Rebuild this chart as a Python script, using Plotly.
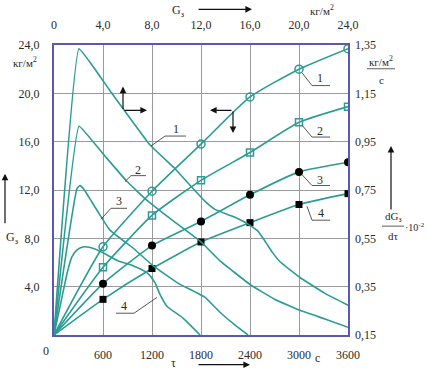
import plotly.graph_objects as go

# ---- data ----
tau = [600, 1200, 1800, 2400, 3000, 3600]
g1 = [7.3, 11.9, 15.8, 19.7, 22.0, 23.7]
g2 = [5.6, 9.9, 12.8, 15.1, 17.6, 18.9]
g3 = [4.25, 7.4, 9.4, 11.6, 13.5, 14.3]
g4 = [2.95, 5.5, 7.7, 9.3, 10.8, 11.7]

# drying-rate curves: G (top axis) vs dG/dtau (right axis)
r1_g = [0, 2.04, 4.57, 7.84, 9.88, 11.35, 12.33, 13.14, 14.53, 15.84, 16.65, 17.22, 17.80, 18.45, 20.08, 22.12, 24.0]
r1_v = [0.15, 1.334, 1.161, 0.936, 0.838, 0.756, 0.703, 0.670, 0.642, 0.609, 0.580, 0.539, 0.494, 0.453, 0.388, 0.322, 0.273]
r2_g = [0, 2.04, 4.0, 5.96, 7.59, 9.22, 11.92, 13.55, 16.0, 18.04, 20.08, 22.12, 24.0]
r2_v = [0.15, 1.014, 0.900, 0.785, 0.707, 0.642, 0.539, 0.457, 0.359, 0.297, 0.252, 0.216, 0.182]
r3_g = [0, 1.88, 2.12, 2.45, 3.51, 4.57, 6.45, 8.08, 10.04, 12.33, 13.55, 14.78, 15.84]
r3_v = [0.15, 0.756, 0.768, 0.752, 0.666, 0.584, 0.510, 0.437, 0.367, 0.306, 0.244, 0.191, 0.15]
r4_g = [0, 0.65, 1.14, 1.47, 1.88, 2.45, 3.35, 4.0, 5.22, 6.45, 7.59, 8.24, 8.65, 9.22, 10.53, 11.92]
r4_v = [0.15, 0.306, 0.420, 0.474, 0.502, 0.515, 0.506, 0.490, 0.457, 0.437, 0.408, 0.367, 0.318, 0.269, 0.220, 0.15]

x_ticks = [600, 1200, 1800, 2400, 3000, 3600]
y_ticks = [4, 8, 12, 16, 20, 24]
y_labels = ["4,0", "8,0", "12,0", "16,0", "20,0", "24,0"]
top_ticks = [0, 4, 8, 12, 16, 20, 24]
top_labels = ["0", "4,0", "8,0", "12,0", "16,0", "20,0", "24,0"]
right_ticks = [0.15, 0.35, 0.55, 0.75, 0.95, 1.15, 1.35]
right_labels = ["0,15", "0,35", "0,55", "0,75", "0,95", "1,15", "1,35"]

TEAL = "#2b9c94"
FRAME = "#5a5aaa"
FONT = "Liberation Serif"
TXT = "#2a2a2a"

W, H = 429, 374
PL, PR, PT, PB = 54, 348, 45, 338          # plot area in window pixels
L, T, R, B = PL, PT, W - PR, H - PB
PW, PH = PR - PL, PB - PT


def px(x):
    return (x - PL) / PW


def py(y):
    return (PB - y) / PH


fig = go.Figure()

# rate curves on top/right axes
for gx, gv, sm in [(r1_g, r1_v, 0.25), (r2_g, r2_v, 0.25), (r3_g, r3_v, 0.4), (r4_g, r4_v, 0.6)]:
    fig.add_trace(go.Scatter(x=gx, y=gv, xaxis="x2", yaxis="y2", mode="lines",
                             line=dict(color=TEAL, width=1.6, shape="spline", smoothing=sm),
                             showlegend=False, hoverinfo="skip"))

# kinetic curves on bottom/left axes
markers = [
    (g1, dict(symbol="circle-open", size=8, color=TEAL, line=dict(width=1.5, color=TEAL))),
    (g2, dict(symbol="square-open", size=7, color=TEAL, line=dict(width=1.5, color=TEAL))),
    (g3, dict(symbol="circle", size=8, color="black")),
    (g4, dict(symbol="square", size=7, color="black")),
]
for g, mk in markers:
    fig.add_trace(go.Scatter(x=[0] + tau, y=[0] + g, mode="lines",
                             line=dict(color=TEAL, width=1.6, shape="spline", smoothing=0.5),
                             showlegend=False, hoverinfo="skip"))
    fig.add_trace(go.Scatter(x=tau, y=g, mode="markers", marker=mk,
                             showlegend=False, hoverinfo="skip"))

tickfont = dict(family=FONT, size=12, color=TXT)
fig.update_layout(
    width=W, height=H,
    margin=dict(l=L, r=R, t=T, b=B, pad=0),
    paper_bgcolor="white", plot_bgcolor="white",
    xaxis=dict(range=[0, 3600], tickvals=x_ticks, ticktext=[str(v) for v in x_ticks],
               showgrid=True, gridcolor="#9a9a9a", gridwidth=1,
               showline=True, linecolor=FRAME, linewidth=2, mirror=True,
               ticks="", tickfont=tickfont, ticklabelstandoff=8, zeroline=False, fixedrange=True),
    yaxis=dict(range=[0, 24], tickvals=y_ticks, ticktext=y_labels,
               showgrid=True, gridcolor="#9a9a9a", gridwidth=1,
               showline=True, linecolor=FRAME, linewidth=2, mirror=True,
               ticks="", tickfont=tickfont, ticklabelstandoff=10, zeroline=False, fixedrange=True),
    xaxis2=dict(range=[0, 24], overlaying="x", side="top", tickvals=top_ticks, ticktext=top_labels,
                showgrid=False, showline=False, ticks="", tickfont=tickfont,
                ticklabelstandoff=13, zeroline=False, fixedrange=True),
    yaxis2=dict(range=[0.15, 1.35], overlaying="y", side="right", tickvals=right_ticks, ticktext=right_labels,
                showgrid=False, showline=False, ticks="", tickfont=tickfont,
                ticklabelstandoff=6, zeroline=False, fixedrange=True),
)

anns = []
shapes = []


def text(x, y, s, size=12, xanchor="center"):
    anns.append(dict(x=px(x), y=py(y), xref="paper", yref="paper", text=s, showarrow=False,
                     font=dict(family=FONT, size=size, color=TXT), xanchor=xanchor, yanchor="middle"))


def line(x0, y0, x1, y1, color="#444", width=0.9):
    shapes.append(dict(type="line", xref="paper", yref="paper", x0=px(x0), y0=py(y0), x1=px(x1), y1=py(y1),
                       line=dict(color=color, width=width)))


def arrow(x0, y0, x1, y1, width=1.2):
    # tail (x0,y0) -> head (x1,y1), window pixel coordinates
    anns.append(dict(x=px(x1), y=py(y1), xref="paper", yref="paper", text="", showarrow=True,
                     ax=x0 - x1, ay=y0 - y1, axref="pixel", ayref="pixel",
                     arrowhead=2, arrowsize=1.1, arrowwidth=width, arrowcolor="#111", standoff=0))


# axis extras
text(46, 354, "0")
text(25, 62, "кг/м<sup>2</sup>", size=11)
text(12, 240, "G<sub>з</sub>")
arrow(5, 226, 5, 175)
text(173, 366, "τ")
arrow(197, 368, 250, 368)
text(317, 361, "с")
text(178, 11, "G<sub>з</sub>")
arrow(197, 9, 252, 9)
text(322, 10, "кг/м<sup>2</sup>", size=11)
text(381, 61, "кг/м<sup>2</sup>", size=11)
line(367, 69, 395, 69, color="#333", width=0.8)
text(381, 80, "с", size=11)
arrow(391, 212, 391, 147)
text(393, 219, "dG<sub>з</sub>", size=11)
line(382, 228, 404, 228, color="#333", width=0.8)
text(393, 238, "dτ", size=11)
text(415, 229, "·10<sup>-2</sup>", size=10)

# in-plot direction arrows
arrow(123, 111, 123, 87)
arrow(123, 111, 147, 111)
arrow(233, 111, 210, 111)
arrow(233, 111, 233, 134)

# curve labels with leaders (rate curves)
for lx, ly, ux0, ux1, uy, cx, cy, s in [
    (176, 130, 165, 186, 137, 151, 147, "1"),
    (138, 171, 131, 146, 177, 125, 183, "2"),
    (119, 203, 111, 127, 210, 101, 221, "3"),
    (124, 309, 116, 134, 316, 157, 300, "4"),
]:
    text(lx, ly, s)
    line(ux0, uy, ux1, uy)
    if cx < ux0:
        line(cx, cy, ux0, uy)
    else:
        line(ux1, uy, cx, cy)

# curve labels (kinetic curves)
for lx, ly, uy, cx, cy, s in [
    (320, 78, 86, 302, 73, "1"),
    (320, 132, 138, 302, 126, "2"),
    (320, 181, 187, 302, 176, "3"),
    (321, 215, 222, 307, 208, "4"),
]:
    text(lx, ly, s)
    line(312, uy, 330, uy)
    line(cx, cy, 312, uy)

fig.update_layout(annotations=anns, shapes=shapes)
fig.write_html("out.html", config={"displayModeBar": False},
               post_script="document.body.style.margin='0';document.body.style.overflow='hidden';")
